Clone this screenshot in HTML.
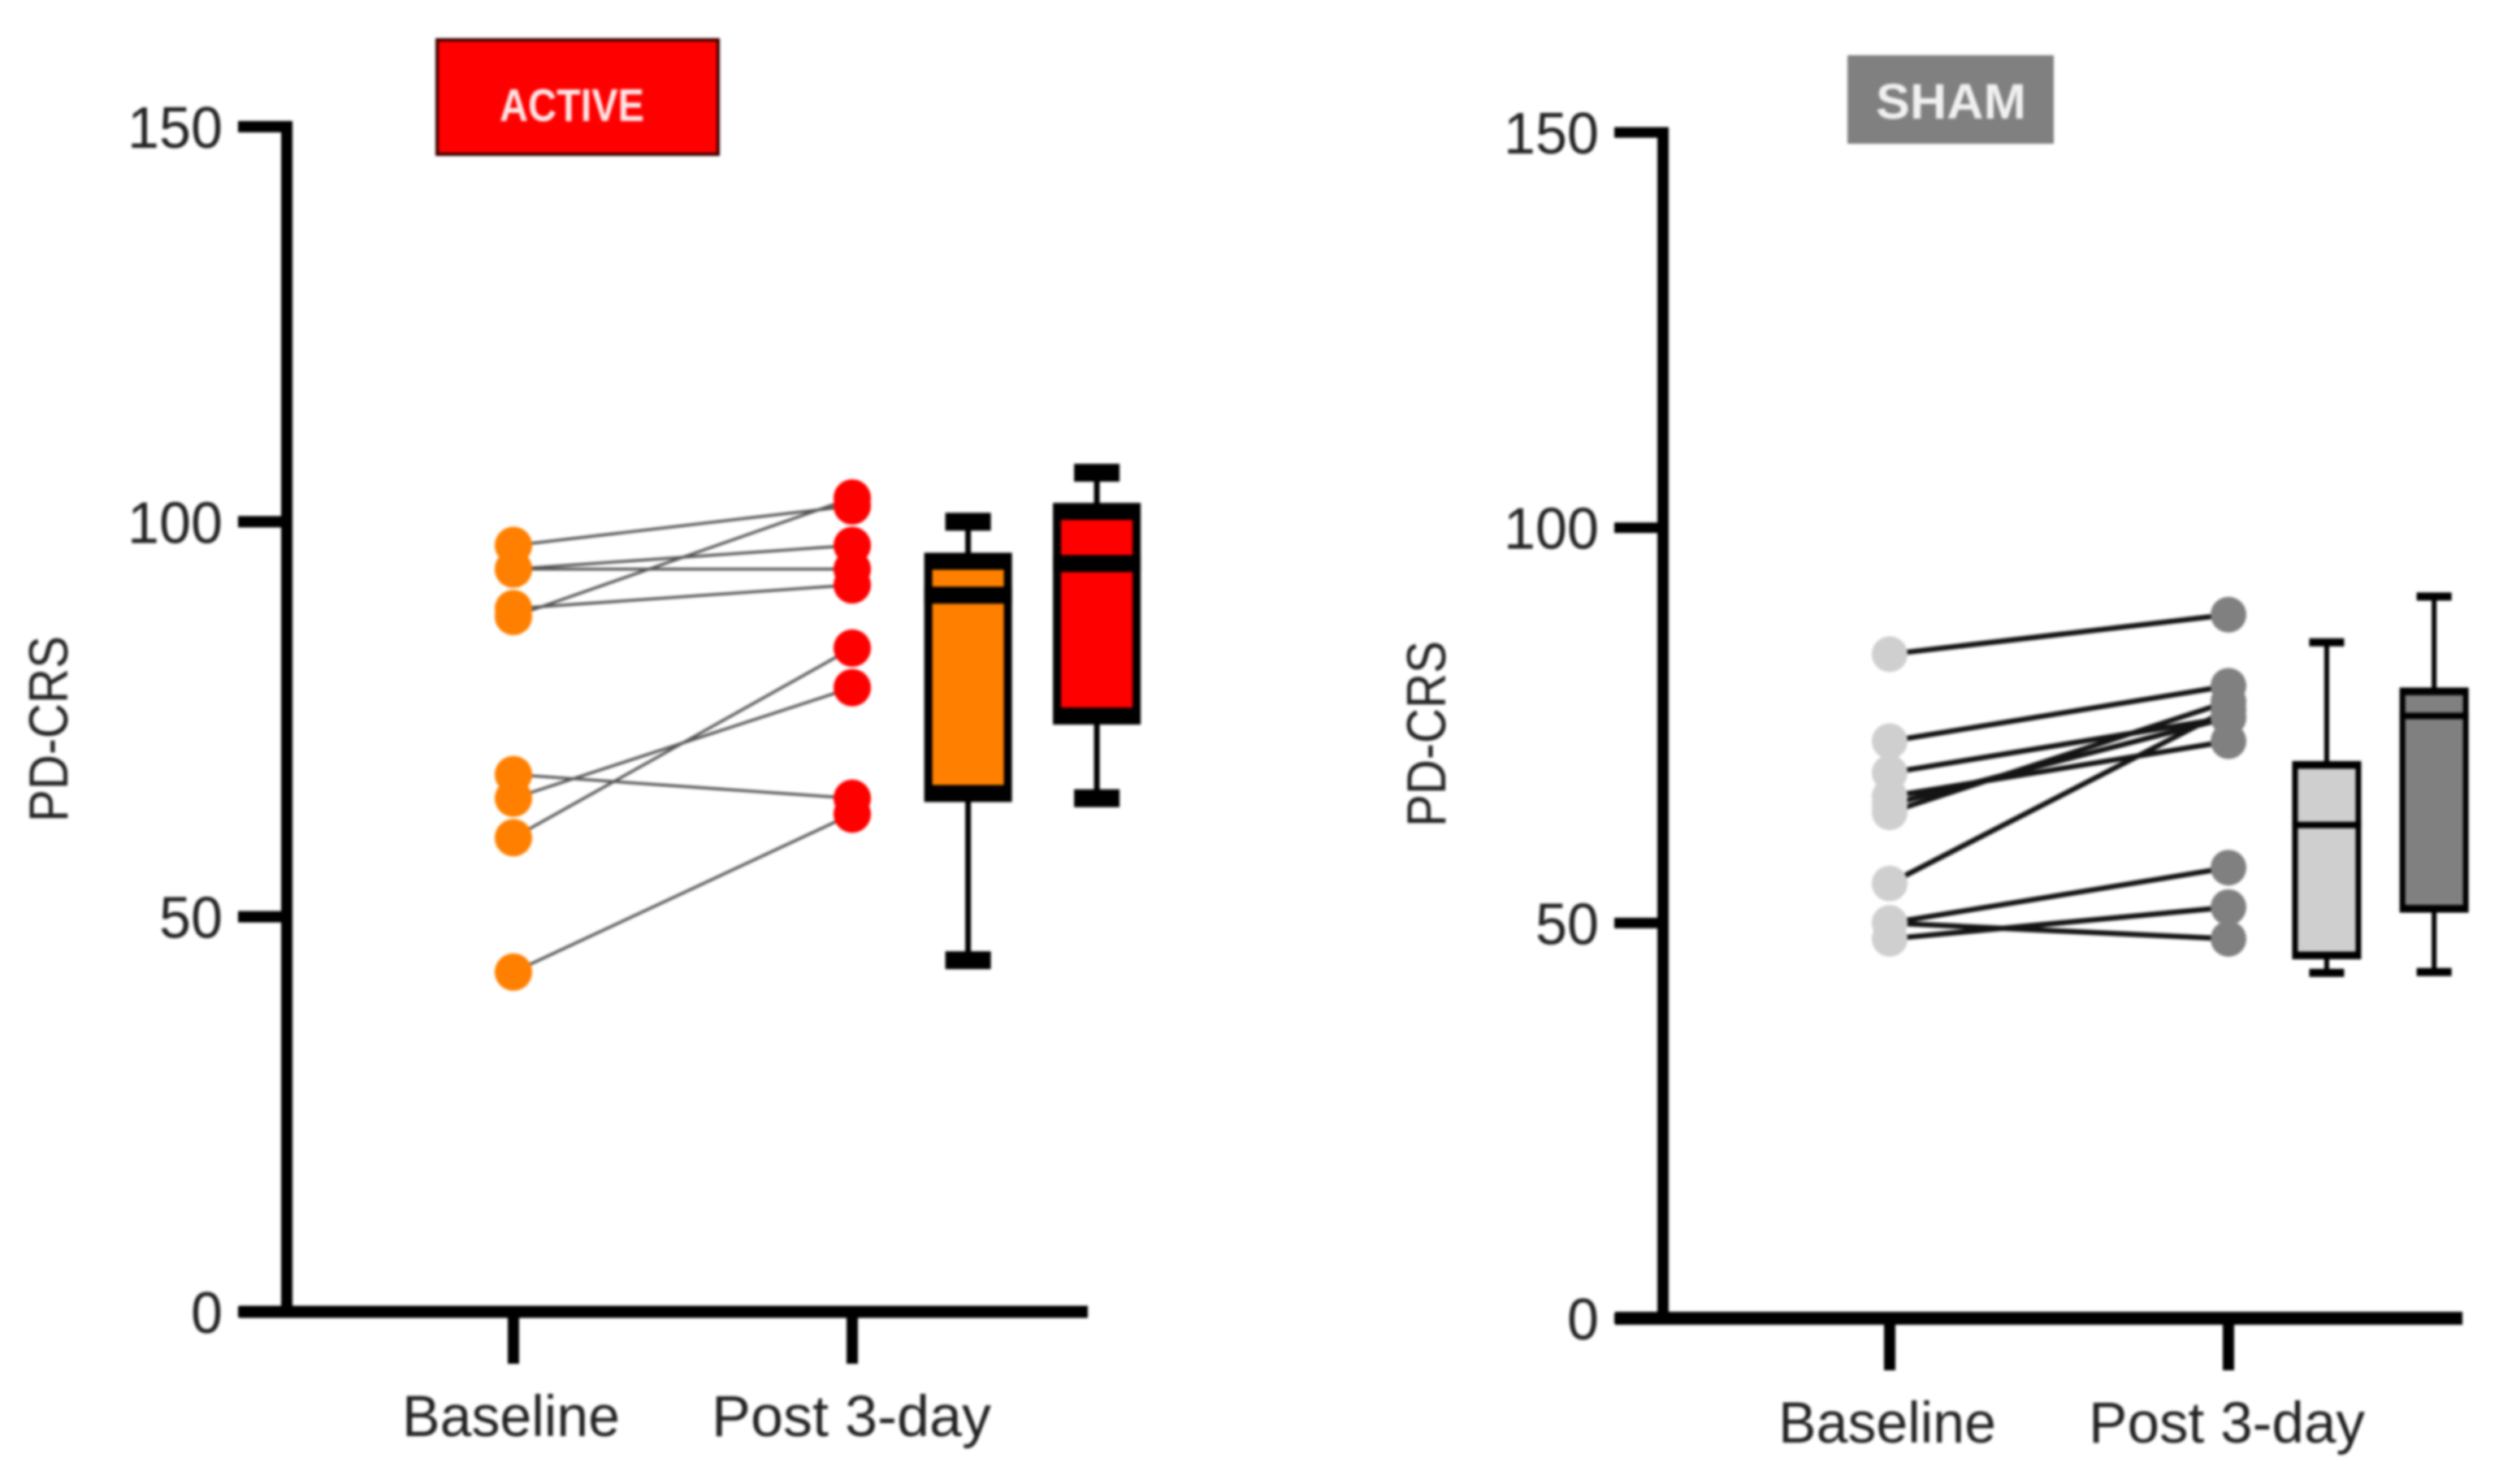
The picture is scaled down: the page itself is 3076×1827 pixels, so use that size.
<!DOCTYPE html>
<html lang="en">
<head>
<meta charset="utf-8">
<title>PD-CRS Active vs Sham</title>
<style>
  html, body { margin: 0; padding: 0; background: #fff; }
  body { width: 3076px; height: 1827px; overflow: hidden; }
  svg { display: block; filter: blur(1.5px); }
  text { font-family: "Liberation Sans", sans-serif; }
</style>
</head>
<body>
<svg id="figure" xmlns="http://www.w3.org/2000/svg" width="3076" height="1827" viewBox="0 0 3076 1827">
  <rect x="0" y="0" width="3076" height="1827" fill="#ffffff"/>
  <g>
    <rect x="538" y="49" width="346" height="141" fill="#ff0000" stroke="#3a0000" stroke-width="4"/>
    <text x="615" y="149" font-size="57" font-weight="bold" fill="#ffe4e4" textLength="178" lengthAdjust="spacingAndGlyphs">ACTIVE</text>
  </g>
  <g>
    <rect x="2274" y="68" width="254" height="109" fill="#808080"/>
    <text x="2309" y="146" font-size="61" font-weight="bold" fill="#f0f0f0" textLength="185" lengthAdjust="spacingAndGlyphs">SHAM</text>
  </g>
  <g id="active-chart"></g>
  <g id="sham-chart"></g>
</svg>
<script>
// ---- shared axis content ----
const yTicks = [0, 50, 100, 150];
const categories = ['Baseline', 'Post 3-day'];
const yAxisTitle = 'PD-CRS';

// ---- ACTIVE panel values ----
const activeBaseline = [97, 94, 94, 88, 89, 68, 65, 60, 43];
const activePost = [102, 97, 94, 103, 92, 65, 79, 84, 63];
const activeBoxLow = [44.5, 65];
const activeBoxQ1 = [65.6, 75.4];
const activeBoxMedian = [90.7, 94.7];
const activeBoxQ3 = [95, 101.3];
const activeBoxHigh = [100, 106.2];

// ---- SHAM panel values ----
const shamBaseline = [84, 73, 69, 66, 65, 64, 55, 50, 50, 48];
const shamPost = [89, 80, 76, 73, 76, 78, 77, 57, 48, 52];
const shamBoxLow = [43.7, 43.8];
const shamBoxQ1 = [45.9, 51.8];
const shamBoxMedian = [62.4, 76.2];
const shamBoxQ3 = [70, 79.3];
const shamBoxHigh = [85.5, 91.3];

const SVG_NS = 'http://www.w3.org/2000/svg';

function shape(tag, parent, attrs, content) {
  const node = document.createElementNS(SVG_NS, tag);
  for (const key in attrs) node.setAttribute(key, attrs[key]);
  if (content !== undefined) node.textContent = content;
  parent.appendChild(node);
  return node;
}

function drawChart(cfg) {
  const root = document.getElementById(cfg.id);
  const yScale = function (v) { return cfg.y0 - v * cfg.yUnit; };
  const xScale = function (i) { return cfg.x0 + i * cfg.xStep; };
  let el;

  // y axis line
  el = shape('rect', root, { x: cfg.axisX - 7, y: yScale(150) - cfg.yTickH / 2, width: 14, height: cfg.y0 - yScale(150) + cfg.yTickH / 2, fill: '#000' });
  
  

  // y ticks and tick labels
  yTicks.forEach(function (t) {
    let node = shape('rect', root, { x: cfg.axisX - 60, y: yScale(t) - cfg.yTickH / 2, width: 56, height: cfg.yTickH, fill: '#000' });
    
    
    const label = String(t);
    node = shape('text', root, { x: cfg.yLabelRight, y: yScale(t) + 26, 'font-size': 72, fill: '#222', 'text-anchor': 'end', textLength: label.length * 39, lengthAdjust: 'spacingAndGlyphs' }, label);
    
    
  });

  // y axis title
  el = shape('text', root, { transform: 'translate(' + cfg.titleX + ' ' + cfg.titleY + ') rotate(-90)', x: 0, y: 0, 'font-size': 68, fill: '#222', textLength: 229, lengthAdjust: 'spacingAndGlyphs' }, yAxisTitle);
  
  

  // x axis line
  el = shape('rect', root, { x: cfg.axisLeft, y: cfg.y0 - cfg.xAxisH / 2, width: cfg.axisRight - cfg.axisLeft, height: cfg.xAxisH, fill: '#000' });
  
  

  // x ticks and category labels
  categories.forEach(function (c, i) {
    let node = shape('rect', root, { x: xScale(i) - 7, y: cfg.y0, width: 14, height: 64, fill: '#000' });
    
    
    node = shape('text', root, { x: xScale(i) + cfg.catOffset[i], y: cfg.catY, 'font-size': 71, fill: '#222', 'text-anchor': 'middle', textLength: cfg.catWidth[i], lengthAdjust: 'spacingAndGlyphs' }, c);
    
    
  });

  // paired subject lines
  cfg.baseline.forEach(function (v, i) {
    const node = shape('line', root, { x1: xScale(0), y1: yScale(v), x2: xScale(1), y2: yScale(cfg.post[i]), stroke: cfg.lineColor, 'stroke-width': cfg.lineWidth });
    
    
  });

  // baseline points
  cfg.baseline.forEach(function (v) {
    const node = shape('circle', root, { cx: xScale(0), cy: yScale(v), r: cfg.radius, fill: cfg.baseColor });
    
    
  });

  // post points
  cfg.post.forEach(function (v) {
    const node = shape('circle', root, { cx: xScale(1), cy: yScale(v), r: cfg.radius, fill: cfg.postColor });
    
    
  });

  // box plots
  cfg.boxQ1.forEach(function (q1, i) {
    const cx = xScale(cfg.boxSlot[i]);
    const fill = i === 0 ? cfg.baseColor : cfg.postColor;
    const top = yScale(cfg.boxQ3[i]) - cfg.boxH / 2;
    const bottom = yScale(q1) + cfg.boxH / 2;
    let node = shape('rect', root, { x: cx - cfg.stemW / 2, y: yScale(cfg.boxHigh[i]), width: cfg.stemW, height: yScale(cfg.boxLow[i]) - yScale(cfg.boxHigh[i]), fill: '#000' });
    
    
    node = shape('rect', root, { x: cx - cfg.capW / 2, y: yScale(cfg.boxHigh[i]) - cfg.capH / 2, width: cfg.capW, height: cfg.capH, fill: '#000' });
    
    
    node = shape('rect', root, { x: cx - cfg.capW / 2, y: yScale(cfg.boxLow[i]) - cfg.capH / 2, width: cfg.capW, height: cfg.capH, fill: '#000' });
    
    
    node = shape('rect', root, { x: cx - cfg.boxW / 2, y: top, width: cfg.boxW, height: bottom - top, fill: '#000' });
    
    
    node = shape('rect', root, { x: cx - cfg.boxW / 2 + cfg.boxV, y: top + cfg.boxH, width: cfg.boxW - 2 * cfg.boxV, height: bottom - top - 2 * cfg.boxH, fill: fill });
    
    
    node = shape('rect', root, { x: cx - cfg.boxW / 2, y: yScale(cfg.boxMedian[i]) - cfg.medianH / 2, width: cfg.boxW, height: cfg.medianH, fill: '#000' });
    
    
  });
}

drawChart({
  id: 'active-chart',
  y0: 1615, yUnit: 9.727, x0: 632, xStep: 417,
  axisX: 353, axisLeft: 295, axisRight: 1339, xAxisH: 15, yTickH: 14,
  yLabelRight: 274, titleX: 83, titleY: 1012,
  catY: 1768, catOffset: [-3, -1], catWidth: [268, 344],
  baseline: activeBaseline, post: activePost,
  baseColor: '#ff8000', postColor: '#ff0000',
  lineColor: '#555555', lineWidth: 3.5, radius: 23,
  boxSlot: [1.342, 1.722], boxLow: activeBoxLow, boxQ1: activeBoxQ1,
  boxMedian: activeBoxMedian, boxQ3: activeBoxQ3, boxHigh: activeBoxHigh,
  boxW: 108, boxV: 10, boxH: 21, medianH: 21, stemW: 7, capW: 56, capH: 22
});

drawChart({
  id: 'sham-chart',
  y0: 1623, yUnit: 9.733, x0: 2326, xStep: 417,
  axisX: 2047, axisLeft: 1988, axisRight: 3031, xAxisH: 16, yTickH: 13,
  yLabelRight: 1968, titleX: 1779, titleY: 1018,
  catY: 1776, catOffset: [-3, -2], catWidth: [268, 340],
  baseline: shamBaseline, post: shamPost,
  baseColor: '#cfcfcf', postColor: '#808080',
  lineColor: '#141414', lineWidth: 6.5, radius: 22,
  boxSlot: [1.29, 1.607], boxLow: shamBoxLow, boxQ1: shamBoxQ1,
  boxMedian: shamBoxMedian, boxQ3: shamBoxQ3, boxHigh: shamBoxHigh,
  boxW: 85, boxV: 7, boxH: 9.5, medianH: 8, stemW: 6, capW: 43, capH: 10
});
</script>
</body>
</html>
